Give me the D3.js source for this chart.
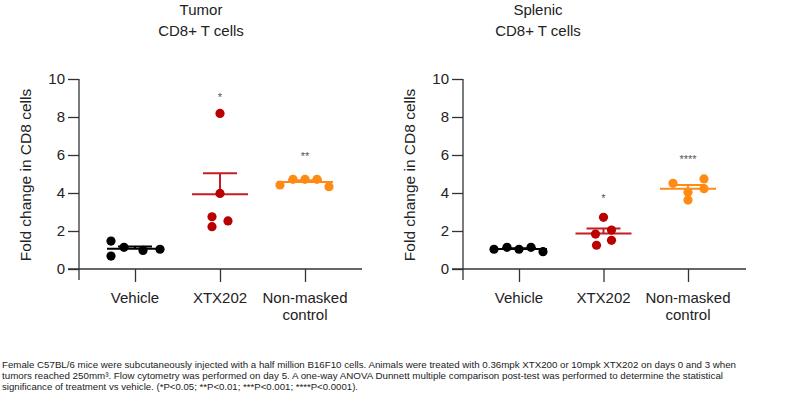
<!DOCTYPE html>
<html>
<head>
<meta charset="utf-8">
<script src="https://cdn.jsdelivr.net/npm/d3@7"></script>
<style>
  body { margin: 0; background: #fff; }
  text { font-family: "Liberation Sans", Arial, sans-serif; }
</style>
</head>
<body>
<div id="chart"></div>
<script>
// Groups and colours
const groups = ["Vehicle", "XTX202", "Non-masked control"];
const groupLabels = [["Vehicle"], ["XTX202"], ["Non-masked", "control"]];
const dotColors = ["#000000", "#bb0000", "#ff8a14"];
const lineColors = ["#000000", "#c41e24", "#ff8a14"];
const yTicks = [0, 2, 4, 6, 8, 10];

// Tumor CD8+ T cells (fold change), one array per group
const tumorVehicle = [1.47, 0.68, 1.14, 0.98, 1.04];
const tumorXTX202 = [8.19, 3.98, 2.75, 2.53, 2.23];
const tumorNonMasked = [4.42, 4.72, 4.72, 4.72, 4.33];
const tumorStars = ["", "*", "**"];
const tumorStarAt = [null, 9.16, 6.04];

// Splenic CD8+ T cells (fold change)
const spleenVehicle = [1.04, 1.14, 1.04, 1.14, 0.91];
const spleenXTX202 = [2.72, 1.84, 2.05, 1.51, 1.25];
const spleenNonMasked = [4.51, 4.74, 4.23, 4.04, 3.63];
const spleenStars = ["", "*", "****"];
const spleenStarAt = [null, 3.84, 5.88];

// horizontal scatter of the dots, in px from the group centre
const tumorJitter = [[-24, -24, -11, 8, 25], [0, 0, -8, 8, -8], [-25, -12, 0, 12, 24]];
const spleenJitter = [[-25, -12, 0, 12, 24], [0, -8, 8, 8, -7], [-15, 16, 16, 0, 0]];

const footnote = [
  "Female C57BL/6 mice were subcutaneously injected with a half million B16F10 cells. Animals were treated with 0.36mpk XTX200 or 10mpk XTX202 on days 0 and 3 when",
  "tumors reached 250mm\u00b3. Flow cytometry was performed on day 5. A one-way ANOVA Dunnett multiple comparison post-test was performed to determine the statistical",
  "significance of treatment vs vehicle. (*P<0.05; **P<0.01; ***P<0.001; ****P<0.0001)."
];
const footnoteWidths = [734, 721, 356];

const W = 787, H = 404;
const svg = d3.select("#chart").append("svg")
  .attr("width", W).attr("height", H);
svg.append("rect").attr("width", W).attr("height", H).attr("fill", "#fff");

const panels = [
  { title: ["Tumor", "CD8+ T cells"], titleX: 201, axisX: 79, axisEnd: 362, range: [135, 305], labelX: 31,
    values: [tumorVehicle, tumorXTX202, tumorNonMasked], jitter: tumorJitter, stars: tumorStars, starAt: tumorStarAt },
  { title: ["Splenic", "CD8+ T cells"], titleX: 538, axisX: 463, axisEnd: 746, range: [519, 688], labelX: 415,
    values: [spleenVehicle, spleenXTX202, spleenNonMasked], jitter: spleenJitter, stars: spleenStars, starAt: spleenStarAt }
];

const y = d3.scaleLinear().domain([0, 10]).range([269, 79]);

panels.forEach((p) => {
  const g = svg.append("g");
  const x = d3.scalePoint().domain(groups).range(p.range);

  // Title
  g.append("text").attr("x", p.titleX).attr("y", 15).attr("text-anchor", "middle")
    .style("font-size", "15px").attr("fill", "#222").text(p.title[0]);
  g.append("text").attr("x", p.titleX).attr("y", 36).attr("text-anchor", "middle")
    .style("font-size", "15px").attr("fill", "#222").text(p.title[1]);

  // Y axis
  const yAxis = g.append("g")
    .attr("transform", `translate(${p.axisX},0)`)
    .call(d3.axisLeft(y).tickValues(yTicks).tickSize(11).tickSizeOuter(0).tickPadding(3));
  yAxis.select(".domain").remove();
  yAxis.append("line").attr("x1", 0).attr("x2", 0).attr("y1", y(10)).attr("y2", y(0) + 11)
    .attr("stroke", "#333").attr("stroke-width", 1.3);
  yAxis.selectAll(".tick line").attr("stroke", "#333").attr("stroke-width", 1.3);
  yAxis.selectAll(".tick text").style("font-size", "15px").attr("fill", "#222")
    .style("font-family", "'Liberation Sans', Arial, sans-serif");

  // Y label
  g.append("text")
    .attr("transform", `translate(${p.labelX},175) rotate(-90)`)
    .attr("text-anchor", "middle").style("font-size", "15.5px").attr("fill", "#222")
    .text("Fold change in CD8 cells");

  // X axis
  const xAxis = g.append("g")
    .attr("transform", `translate(0,${y(0)})`)
    .call(d3.axisBottom(x).tickSize(13).tickSizeOuter(0).tickFormat(""));
  xAxis.select(".domain").remove();
  xAxis.append("line").attr("x1", p.axisX - 11).attr("x2", p.axisEnd).attr("y1", 0).attr("y2", 0)
    .attr("stroke", "#333").attr("stroke-width", 1.3);
  xAxis.selectAll(".tick line").attr("stroke", "#333").attr("stroke-width", 1.3);

  groups.forEach((grp, i) => {
    groupLabels[i].forEach((line, k) => {
      g.append("text").attr("x", x(grp)).attr("y", 303 + k * 17)
        .attr("text-anchor", "middle").style("font-size", "15px").attr("fill", "#222").text(line);
    });
  });

  // Mean with upper SEM bar, then dots
  p.values.forEach((vals, i) => {
    const cx = x(groups[i]);
    const mean = d3.mean(vals);
    const sem = d3.deviation(vals) / Math.sqrt(vals.length);
    const col = lineColors[i];
    const eg = g.append("g").attr("stroke", col).attr("stroke-width", 2).attr("fill", "none");
    eg.append("line").attr("x1", cx).attr("x2", cx).attr("y1", y(mean)).attr("y2", y(mean + sem));
    eg.append("line").attr("x1", cx - 17).attr("x2", cx + 17).attr("y1", y(mean + sem)).attr("y2", y(mean + sem));
    eg.append("line").attr("x1", cx - 28).attr("x2", cx + 28).attr("y1", y(mean)).attr("y2", y(mean));

    g.selectAll(null).data(vals).enter().append("circle")
      .attr("cx", (d, j) => cx + p.jitter[i][j])
      .attr("cy", (d) => y(d))
      .attr("r", 4.6)
      .attr("fill", dotColors[i]);

    if (p.stars[i]) {
      g.append("text").attr("x", cx).attr("y", y(p.starAt[i]) + 6)
        .attr("text-anchor", "middle").style("font-size", "11px").attr("fill", "#555")
        .text(p.stars[i]);
    }
  });
});

// Footnote
footnote.forEach((line, i) => {
  svg.append("text").attr("x", 2).attr("y", 368 + i * 11)
    .style("font-size", "9.5px").attr("fill", "#222")
    .attr("textLength", footnoteWidths[i]).attr("lengthAdjust", "spacingAndGlyphs")
    .text(line);
});
</script>
</body>
</html>
